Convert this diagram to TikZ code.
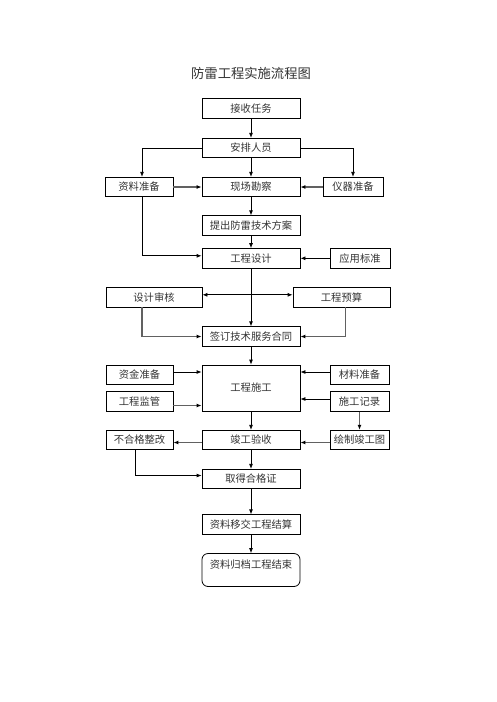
\documentclass[tikz,border=0pt]{standalone}
\usepackage{fontspec}
\setmainfont{Noto Sans CJK SC}
\usetikzlibrary{arrows.meta}
\begin{document}
\begin{tikzpicture}[x=1pt, y=-1pt,
  every node/.style={font=\fontsize{10.3}{12}\selectfont, text=black!80},
  box/.style={draw=black, line width=0.8pt, inner sep=0pt, minimum height=19.5pt},
  link/.style={-{Latex[length=5pt,width=4pt,black]}, line width=0.8pt},
  greylink/.style={link, draw=black!62, line width=1.5pt}]
\useasboundingbox (0,0) rectangle (496,702);

\node[font=\fontsize{13.3}{15}\selectfont] (title) at (251,73) {防雷工程实施流程图};

% main column
\node[box, minimum width=98pt] (receive) at (251,108.5) {接收任务};
\node[box, minimum width=98pt] (assign) at (251,148) {安排人员};
\node[box, minimum width=98pt] (survey) at (251,187) {现场勘察};
\node[box, minimum width=98pt] (scheme) at (251,225.5) {提出防雷技术方案};
\node[box, minimum width=98pt] (design) at (251,258.3) {工程设计};
\node[box, minimum width=98pt] (contract) at (251,336.5) {签订技术服务合同};
\node[box, minimum width=98pt, minimum height=46pt] (build) at (251,388) {工程施工};
\node[box, minimum width=98pt] (accept) at (251,440) {竣工验收};
\node[box, minimum width=98pt] (cert) at (251,479) {取得合格证};
\node[box, minimum width=98pt] (handover) at (251,524.5) {资料移交工程结算};
\node[box, minimum width=98pt, minimum height=0pt, text height=15pt, text depth=18pt,
  rounded corners=6pt] (archive) at (251,570) {资料归档工程结束};

% side boxes
\node[box, minimum width=68pt] (docs) at (139,187) {资料准备};
\node[box, minimum width=60pt] (instr) at (353,187) {仪器准备};
\node[box, minimum width=60pt] (standard) at (360,258.3) {应用标准};
\node[box, minimum width=96pt] (review) at (154,297.3) {设计审核};
\node[box, minimum width=97pt] (budget) at (341.5,297.3) {工程预算};
\node[box, minimum width=67pt] (funds) at (139.5,375) {资金准备};
\node[box, minimum width=67pt] (supervise) at (139.5,401.5) {工程监管};
\node[box, minimum width=59pt] (material) at (359.5,375) {材料准备};
\node[box, minimum width=59pt] (record) at (359.5,401.5) {施工记录};
\node[box, minimum width=67pt] (rectify) at (139.5,440) {不合格整改};
\node[box, minimum width=59pt] (drawing) at (359.5,440) {绘制竣工图};

% connectors
\draw[link] (receive) -- (assign);
\draw[link] (assign) -- (survey);
\draw[link] (assign.west) -| ([xshift=3pt]docs.north);
\draw[link] (assign.east) -| (instr.north);
\draw[greylink] (docs) -- (survey);
\draw[greylink] (instr) -- (survey);
\draw[link] (survey) -- (scheme);
\draw[link] (scheme) -- (design);
\draw[link] ([xshift=3pt]docs.south) |- ([yshift=2.5pt]design.west);
\draw[link] (standard) -- (design);
\draw[link] (design) -- (contract);
\draw[link, {Latex[length=5pt,width=4pt]}-{Latex[length=5pt,width=4pt]}]
  ([yshift=2.5pt]review.east) -- ([yshift=2.5pt]budget.west);
\draw[greylink] ([xshift=-12pt]review.south) |- (contract.west);
\draw[greylink] ([xshift=4pt]budget.south) |- (contract.east);
\draw[link] (contract) -- (build);
\draw[link] ([yshift=3pt]funds.east) -- ([yshift=3pt]funds.east -| build.west);
\draw[greylink] ([yshift=-4pt]supervise.east) -- ([yshift=-4pt]supervise.east -| build.west);
\draw[link] ([yshift=3pt]material.west) -- ([yshift=3pt]material.west -| build.east);
\draw[link] ([yshift=2.5pt]record.west) -- ([yshift=2.5pt]record.west -| build.east);
\draw[greylink] (record) -- (drawing);
\draw[link] (build) -- (accept);
\draw[greylink] ([yshift=-2.5pt]accept.west) -- ([yshift=-2.5pt]rectify.east);
\draw[greylink] ([yshift=-2.5pt]drawing.west) -- ([yshift=-2.5pt]accept.east);
\draw[link] ([xshift=-4.5pt]rectify.south) |- ([yshift=3.5pt]cert.west);
\draw[link] (accept) -- (cert);
\draw[link] (cert) -- (handover);
\draw[link] (handover) -- (archive);
\end{tikzpicture}
\end{document}
